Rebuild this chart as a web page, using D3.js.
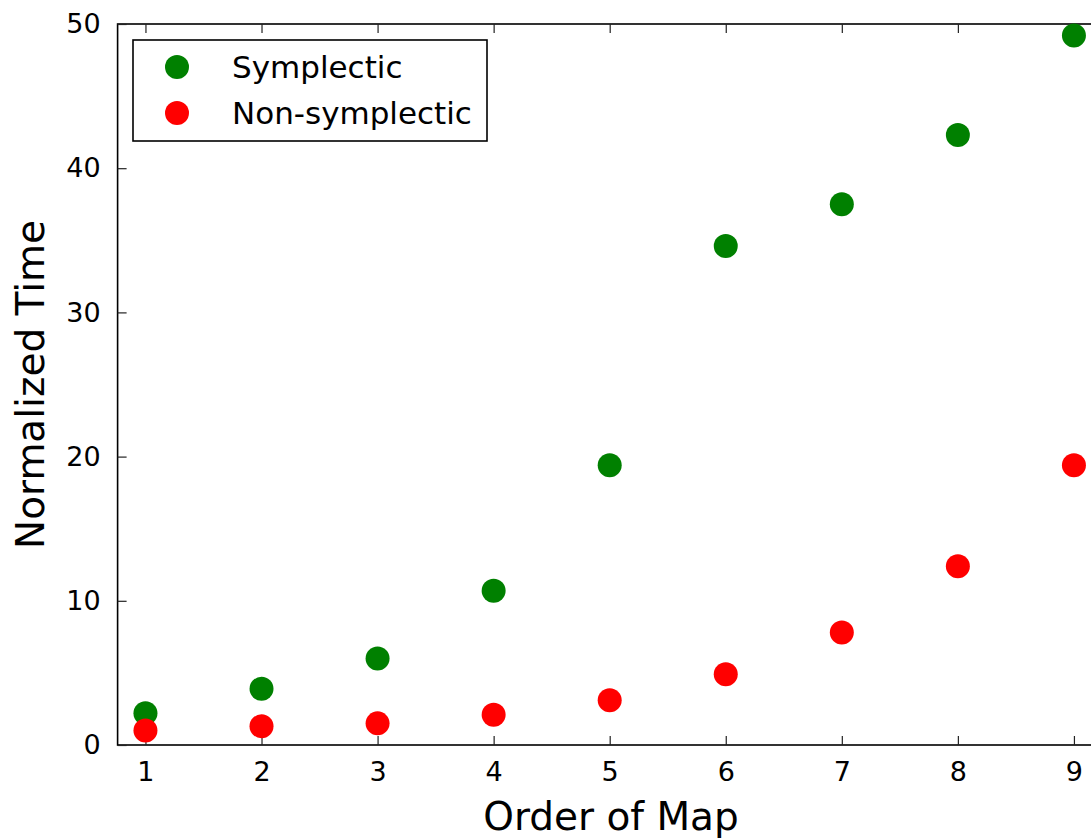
<!DOCTYPE html>
<html>
<head>
<meta charset="utf-8">
<script src="https://cdn.jsdelivr.net/npm/d3@7"></script>
<style>
  html, body { margin: 0; padding: 0; background: #fff; }
  svg { display: block; font-family: "DejaVu Sans", sans-serif; }
</style>
</head>
<body>
<svg id="chart" width="1091" height="838"></svg>
<script>
// Map order vs. normalized computation time
const orders = [1, 2, 3, 4, 5, 6, 7, 8, 9];
const symplectic = [2.2, 3.9, 6.0, 10.7, 19.4, 34.6, 37.5, 42.3, 49.2];
const nonSymplectic = [1.0, 1.3, 1.5, 2.1, 3.1, 4.9, 7.8, 12.4, 19.4];
const xTicks = [1, 2, 3, 4, 5, 6, 7, 8, 9];
const yTicks = [0, 10, 20, 30, 40, 50];
const seriesNames = ["Symplectic", "Non-symplectic"];
const seriesColors = ["#008000", "#ff0000"];

const svg = d3.select("#chart");
const plotLeft = 117.6, plotTop = 24, plotBottom = 745;
const unitW = 116.06;

const x = d3.scaleLinear().domain([0.76, 9.24]).range([plotLeft, plotLeft + 8.48 * unitW]);
const y = d3.scaleLinear().domain([0, 50]).range([plotBottom, plotTop]);
const plotRight = x(9.24);

const tickLen = 9;

// frame
svg.append("rect")
  .attr("x", plotLeft).attr("y", plotTop)
  .attr("width", plotRight - plotLeft).attr("height", plotBottom - plotTop)
  .attr("fill", "none").attr("stroke", "#000").attr("stroke-width", 1.6);

// axes with inward ticks on all four sides
const xb = svg.append("g").attr("transform", `translate(0,${plotBottom})`)
  .call(d3.axisBottom(x).tickValues(xTicks).tickSize(-tickLen).tickPadding(17).tickFormat(d3.format("d")));
const xt = svg.append("g").attr("transform", `translate(0,${plotTop})`)
  .call(d3.axisTop(x).tickValues(xTicks).tickSize(-tickLen).tickFormat(""));
const yl = svg.append("g").attr("transform", `translate(${plotLeft},0)`)
  .call(d3.axisLeft(y).tickValues(yTicks).tickSize(-tickLen).tickPadding(17).tickFormat(d3.format("d")));
const yr = svg.append("g").attr("transform", `translate(${plotRight},0)`)
  .call(d3.axisRight(y).tickValues(yTicks).tickSize(-tickLen).tickFormat(""));

[xb, xt, yl, yr].forEach(g => {
  g.select(".domain").remove();
  g.selectAll(".tick line").attr("stroke", "#222").attr("stroke-width", 1.2);
  g.selectAll(".tick text").attr("fill", "#000").attr("font-size", 27)
    .attr("font-family", "DejaVu Sans, sans-serif");
});
xb.selectAll(".tick text").attr("dy", "0.71em");

// data points
const series = [symplectic, nonSymplectic];
series.forEach((vals, i) => {
  svg.append("g").selectAll("circle")
    .data(orders.map((o, j) => ({ o, v: vals[j] })))
    .join("circle")
    .attr("cx", d => x(d.o))
    .attr("cy", d => y(d.v))
    .attr("r", 12)
    .attr("fill", seriesColors[i]);
});

// axis titles
svg.append("text")
  .attr("x", 611).attr("y", 830)
  .attr("text-anchor", "middle").attr("font-size", 39).attr("fill", "#000")
  .text("Order of Map");
svg.append("text")
  .attr("transform", `translate(44,${(plotTop + plotBottom) / 2}) rotate(-90)`)
  .attr("text-anchor", "middle").attr("font-size", 39).attr("fill", "#000")
  .text("Normalized Time");

// legend
const lg = svg.append("g");
lg.append("rect")
  .attr("x", 133).attr("y", 40).attr("width", 354).attr("height", 101)
  .attr("fill", "#fff").attr("stroke", "#000").attr("stroke-width", 1.6);
seriesNames.forEach((name, i) => {
  const cy = 67 + i * 46;
  lg.append("circle").attr("cx", 177).attr("cy", cy).attr("r", 12).attr("fill", seriesColors[i]);
  lg.append("text").attr("x", 232).attr("y", cy).attr("dy", "0.35em")
    .attr("font-size", 31).attr("fill", "#000").text(name);
});
</script>
</body>
</html>
